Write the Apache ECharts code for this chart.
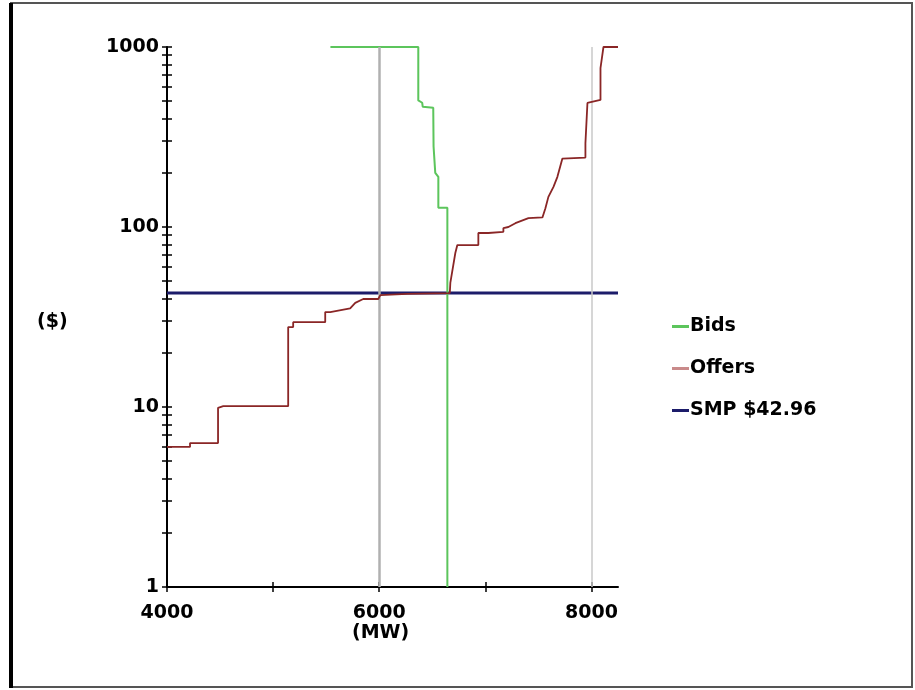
<!DOCTYPE html>
<html>
<head>
<meta charset="utf-8">
<script src="https://cdn.jsdelivr.net/npm/echarts@6/dist/echarts.min.js"></script>
<style>
  html, body { margin: 0; padding: 0; background: #ffffff; }
  #chart { width: 915px; height: 690px; }
</style>
</head>
<body>
<div id="chart"></div>
<script>
// Bid curve: quantity (MW) against price ($), stepping down
var bidMW    = [5540, 6368, 6368, 6405, 6410, 6509, 6512, 6528, 6557, 6557, 6642, 6642];
var bidPrice = [1000, 1000, 505,  490,  465,  460,  280,  200,  190,  128,  128,  1];

// Offer curve: quantity (MW) against price ($), stepping up
var offerMW = [4000, 4217, 4217, 4481, 4481, 4530, 5142, 5142, 5189, 5189, 5491, 5491, 5538,
               5726, 5774, 5849, 5991, 6010, 6264, 6665, 6670, 6717, 6736, 6934, 6934, 7028,
               7170, 7170, 7217, 7283, 7406, 7538, 7566, 7594, 7642, 7679, 7726, 7943, 7943,
               7962, 8085, 8085, 8113, 8250];
var offerPrice = [6.0, 6.0, 6.3, 6.3, 9.9, 10.1, 10.1, 27.8, 27.8, 29.6, 29.6, 33.7, 33.7,
                  35.3, 37.9, 39.8, 39.8, 41.8, 42.5, 42.96, 48.9, 71.7, 79.4, 79.4, 92.6, 92.6,
                  94, 98.7, 100, 105, 112, 113, 127, 147, 167, 190, 240, 243, 292,
                  489, 508, 764, 1000, 1000];

// System marginal price
var smpPrice = 42.96;
var smpLabel = 'SMP $42.96';

// Axis ranges and ticks
var mwMin = 4000, mwMax = 8250;
var mwTicks = [4000, 5000, 6000, 7000, 8000];
var mwLabels = [4000, 6000, 8000];
var mwGridLines = [6000, 8000];
var priceMin = 1, priceMax = 1000;
var priceDecades = [1, 10, 100];
var priceMinorSteps = [1, 2, 3, 4, 5, 6, 7, 8, 9];

function pairs(xs, ys) {
  return xs.map(function (x, i) { return [x, ys[i]]; });
}

// tick positions for the log axis, expressed as exponents on a linear overlay axis
var priceTickExp = [];
priceDecades.forEach(function (d) {
  priceMinorSteps.forEach(function (m) { priceTickExp.push(Math.log10(d * m)); });
});
priceTickExp.push(Math.log10(priceMax));

var FONT = 'DejaVu Sans';
var plainNumber = function (v) { return String(Math.round(v)); };
var labelStyle = { color: '#000', fontFamily: FONT, fontWeight: 'bold', fontSize: 19, formatter: plainNumber };

var chart = echarts.init(document.getElementById('chart'));

var tickOverlayY = function (inside) {
  return {
    type: 'value', position: 'left', min: 0, max: 3, offset: 0,
    axisLine: { show: false },
    axisLabel: { show: false },
    splitLine: { show: false },
    axisTick: { show: true, inside: inside, length: 5, customValues: priceTickExp,
                lineStyle: { color: '#000', width: 1.5 } }
  };
};

var gridLineStyles = [
  { color: '#b0b0b0', width: 2.5 },
  { color: '#c8c8c8', width: 1.5 }
];

chart.setOption({
  animation: false,
  backgroundColor: '#ffffff',
  grid: { left: 167, right: 297, top: 47, bottom: 103, containLabel: false },
  legend: {
    orient: 'vertical', left: 667, top: 312, itemGap: 23,
    itemWidth: 17, itemHeight: 3, icon: 'rect',
    textStyle: { color: '#000', fontFamily: FONT, fontWeight: 'bold', fontSize: 19, padding: [0, 0, 0, -4] },
    data: ['Bids', 'Offers', smpLabel]
  },
  xAxis: [
    {
      type: 'value', min: mwMin, max: mwMax, position: 'bottom',
      axisLine: { show: true, onZero: false, lineStyle: { color: '#000', width: 2 } },
      axisTick: { show: true, length: 5, customValues: mwTicks, lineStyle: { color: '#000', width: 1.5 } },
      axisLabel: Object.assign({ customValues: mwLabels, margin: 17 }, labelStyle),
      splitLine: { show: false }
    },
    {
      type: 'value', min: mwMin, max: mwMax, position: 'bottom',
      axisLine: { show: false },
      axisLabel: { show: false },
      splitLine: { show: false },
      axisTick: { show: true, inside: true, length: 5, customValues: mwTicks, lineStyle: { color: '#000', width: 1.5 } }
    }
  ],
  yAxis: [
    {
      type: 'log', logBase: 10, min: priceMin, max: priceMax, position: 'left',
      axisLine: { show: true, onZero: false, lineStyle: { color: '#000', width: 2 } },
      axisTick: { show: false },
      axisLabel: Object.assign({ margin: 8 }, labelStyle),
      splitLine: { show: false }
    },
    tickOverlayY(false),
    tickOverlayY(true)
  ],
  graphic: [
    { type: 'rect', shape: { x: 11, y: 3, width: 901, height: 684 },
      style: { fill: 'none', stroke: '#555', lineWidth: 2 }, silent: true, z: 100 },
    { type: 'line', shape: { x1: 11, y1: 3, x2: 11, y2: 688 },
      style: { stroke: '#000', lineWidth: 4 }, silent: true, z: 101 },
    { type: 'text', left: 37, top: 313,
      style: { text: '($)', fill: '#000', font: 'bold 19px "DejaVu Sans"' } },
    { type: 'text', left: 352, top: 624,
      style: { text: '(MW)', fill: '#000', font: 'bold 19px "DejaVu Sans"' } }
  ],
  series: [
    {
      // vertical reference lines
      name: 'grid', type: 'line', data: [], silent: true, z: 1,
      markLine: {
        symbol: 'none', silent: true, label: { show: false },
        lineStyle: { type: 'solid' },
        data: mwGridLines.map(function (v, i) { return { xAxis: v, lineStyle: gridLineStyles[i] }; })
      }
    },
    {
      name: smpLabel, type: 'line', z: 3,
      data: [[mwMin, smpPrice], [mwMax, smpPrice]],
      showSymbol: false, symbol: 'none',
      lineStyle: { color: '#1c1c6a', width: 3 }, itemStyle: { color: '#1c1c6a' }
    },
    {
      name: 'Bids', type: 'line', z: 4,
      data: pairs(bidMW, bidPrice),
      showSymbol: false, symbol: 'none',
      lineStyle: { color: '#5cc55c', width: 2 }, itemStyle: { color: '#5cc55c' }
    },
    {
      name: 'Offers', type: 'line', z: 5,
      data: pairs(offerMW, offerPrice),
      showSymbol: false, symbol: 'none',
      lineStyle: { color: '#8a2626', width: 1.8 }, itemStyle: { color: '#c98a8a' }
    }
  ]
});
</script>
</body>
</html>
